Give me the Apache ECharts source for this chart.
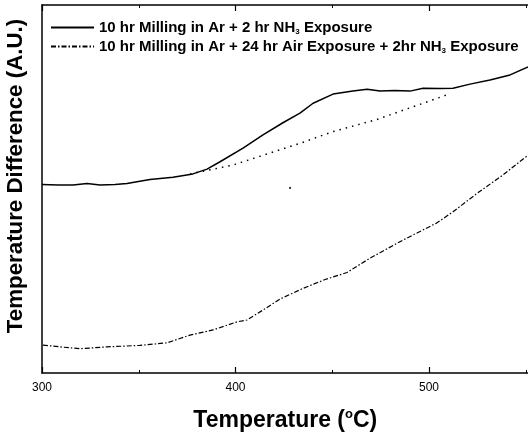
<!DOCTYPE html>
<html>
<head>
<meta charset="utf-8">
<script src="https://cdn.jsdelivr.net/npm/echarts@6/dist/echarts.min.js"></script>
<style>
html,body{margin:0;padding:0;background:#fff;}
#chart{width:528px;height:436px;}
</style>
</head>
<body>
<div id="chart"></div>
<script>
// ---- data ----
const seriesNames = [
  '10 hr Milling in Ar + 2 hr NH3 Exposure',
  '10 hr Milling in Ar + 24 hr Air Exposure + 2hr NH3 Exposure'
];
const xTickLabels = [300, 400, 500];

const solidT = [300.0, 308.3, 316.0, 323.3, 330.0, 337.7, 343.9, 355.8, 367.7, 378.0, 385.3, 392.0, 403.9, 414.2, 424.5, 433.3, 440.1, 450.4, 460.7, 468.0, 474.7, 482.4, 490.2, 496.9, 505.7, 512.4, 521.2, 531.5, 541.9, 551.2];
const solidV = [51.2, 51.1, 51.1, 51.5, 51.1, 51.2, 51.5, 52.6, 53.2, 54.1, 55.4, 57.4, 61.1, 64.7, 68.0, 70.6, 73.3, 75.8, 76.6, 77.1, 76.6, 76.8, 76.6, 77.4, 77.3, 77.4, 78.5, 79.6, 81.0, 83.2];

const baseT = [376.5, 398.7, 416.3, 433.3, 450.4, 473.1, 495.3, 509.8];
const baseV = [54.1, 56.5, 59.5, 62.4, 65.6, 68.9, 73.0, 75.7];

const airT = [300.5, 309.3, 319.6, 333.6, 350.6, 364.6, 376.5, 388.4, 400.8, 405.9, 414.2, 423.0, 434.9, 446.3, 457.6, 469.5, 486.5, 504.1, 512.4, 524.8, 538.2, 551.2];
const airV = [7.6, 7.1, 6.6, 7.1, 7.5, 8.2, 10.3, 11.7, 13.9, 14.4, 17.1, 20.1, 23.0, 25.4, 27.3, 31.2, 36.1, 40.8, 43.8, 48.8, 53.8, 59.2];

const strayT = [428.2];
const strayV = [50.3];

// ---- build ----
const zip = (a, b) => a.map((v, i) => [v, b[i]]);
const FONT = 'Liberation Sans, Arial, sans-serif';

const chart = echarts.init(document.getElementById('chart'), null, {renderer: 'canvas'});

const axisCommon = {
  type: 'value', min: 300, max: 600, interval: 100,
  axisLine: {show: true, onZero: false, lineStyle: {color: '#000', width: 1.5}},
  axisTick: {show: true, inside: true, length: 6, lineStyle: {color: '#000', width: 1.2}},
  minorTick: {show: true, splitNumber: 2, length: 3, lineStyle: {color: '#000', width: 1}},
  splitLine: {show: false}, minorSplitLine: {show: false}
};

const option = {
  animation: false,
  backgroundColor: '#fff',
  textStyle: {fontFamily: FONT},
  grid: {left: 42, top: 5, width: 580.5, height: 368, containLabel: false, outerBoundsMode: 'none'},
  legend: {
    data: seriesNames,
    orient: 'vertical',
    left: 50, top: 20, padding: 0,
    itemWidth: 43, itemHeight: 14, itemGap: 3,
    itemStyle: {color: 'rgba(0,0,0,0)', borderWidth: 0, opacity: 0},
    textStyle: {
      fontFamily: FONT, fontSize: 15, fontWeight: 'bold', color: '#000',
      rich: {
        b: {fontFamily: FONT, fontSize: 15, fontWeight: 'bold', color: '#000'},
        s: {fontFamily: FONT, fontSize: 8, fontWeight: 'bold', color: '#000', padding: [9, 0, 0, 0]}
      }
    },
    formatter: function (name) {
      const parts = name.split('NH3');
      return '{b|' + parts[0] + 'NH}{s|3}{b|' + parts[1] + '}';
    }
  },
  xAxis: [
    Object.assign({}, axisCommon, {
      position: 'bottom',
      name: '{a|Temperature (}{o|o}{a|C)}',
      nameLocation: 'middle', nameGap: 35,
      nameTextStyle: {
        padding: [0, 94, 0, 0],
        rich: {
          a: {fontFamily: FONT, fontSize: 23, fontWeight: 'bold', color: '#000'},
          o: {fontFamily: FONT, fontSize: 13, fontWeight: 'bold', color: '#000', padding: [0, 0, 12, 0]}
        }
      },
      axisLabel: {show: true, margin: 9, color: '#000', fontSize: 12, fontFamily: FONT, showMaxLabel: false,
        formatter: v => xTickLabels.indexOf(v) >= 0 ? String(v) : ''}
    }),
    Object.assign({}, axisCommon, {
      position: 'top',
      axisLabel: {show: false}
    })
  ],
  yAxis: {
    type: 'value', min: 0, max: 100,
    name: 'Temperature Difference (A.U.)',
    nameLocation: 'middle', nameGap: 15,
    nameTextStyle: {fontFamily: FONT, fontSize: 22.3, fontWeight: 'bold', color: '#000', padding: [0, 0, 0, 26]},
    axisLine: {show: true, lineStyle: {color: '#000', width: 1.5}},
    axisTick: {show: false},
    axisLabel: {show: false},
    splitLine: {show: false}
  },
  series: [
    {
      name: seriesNames[0], type: 'line', data: zip(solidT, solidV),
      symbol: 'none', smooth: false,
      lineStyle: {color: '#000', width: 1.5, type: 'solid'}
    },
    {
      name: seriesNames[1], type: 'line', data: zip(airT, airV),
      symbol: 'none', smooth: false,
      lineStyle: {color: '#000', width: 1.2, type: [5, 2, 1.5, 2]}
    },
    {
      name: 'baseline', type: 'line', data: zip(baseT, baseV),
      symbol: 'none', smooth: false,
      lineStyle: {color: '#000', width: 1.5, type: [1.5, 5]}
    },
    {
      name: 'artifact', type: 'scatter', data: zip(strayT, strayV),
      symbol: 'rect', symbolSize: 2, itemStyle: {color: '#000'}
    }
  ]
};
chart.setOption(option);
</script>
</body>
</html>
